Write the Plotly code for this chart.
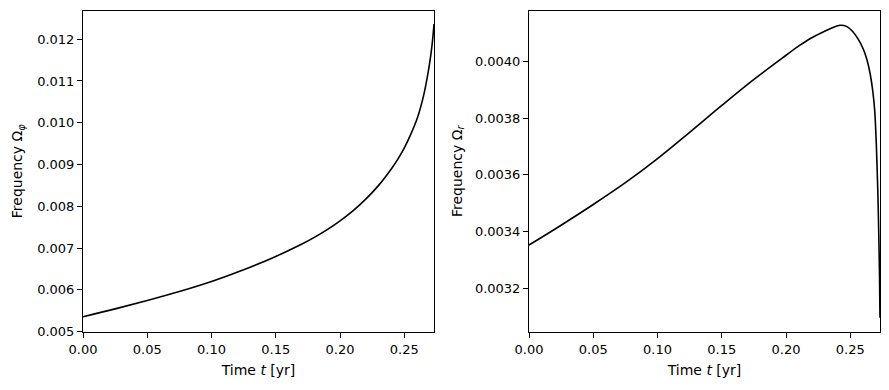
import plotly.graph_objects as go

# Left panel: azimuthal frequency
t_phi = [0.0, 0.025, 0.05, 0.075, 0.10, 0.125, 0.15, 0.17, 0.18, 0.19, 0.20,
         0.21, 0.22, 0.23, 0.24, 0.245, 0.25, 0.255, 0.26, 0.265, 0.2685,
         0.2706, 0.272, 0.2731]
omega_phi = [0.005357, 0.005545, 0.005746, 0.005960, 0.006200, 0.006480,
             0.006800, 0.007090, 0.007255, 0.007440, 0.007650, 0.007890,
             0.008170, 0.008500, 0.008900, 0.009130, 0.009400, 0.009720,
             0.010100, 0.010650, 0.011200, 0.011620, 0.011980, 0.012360]

# Right panel: radial frequency
t_r = [0.0, 0.025, 0.05, 0.075, 0.10, 0.125, 0.15, 0.175, 0.20, 0.21, 0.22,
       0.23, 0.236, 0.242, 0.247, 0.252, 0.256, 0.26, 0.263, 0.2655, 0.2675,
       0.269, 0.2703, 0.2713, 0.2721, 0.2727, 0.2731]
omega_r = [0.003352, 0.003422, 0.003495, 0.003572, 0.003657, 0.003750,
           0.003845, 0.003937, 0.004022, 0.004055, 0.004084, 0.004107,
           0.004119, 0.004128, 0.004124, 0.004105, 0.004080, 0.004045,
           0.004005, 0.003955, 0.003895, 0.003825, 0.003700, 0.003560,
           0.003400, 0.003250, 0.003095]

x_ticks = [0.0, 0.05, 0.10, 0.15, 0.20, 0.25]
x_range = [0.0, 0.2731]
yphi_range = [0.004991, 0.012686]
yr_range = [0.003045, 0.004180]

FONT = "DejaVu Sans"
FS = 14

fig = go.Figure()
fig.add_trace(go.Scatter(x=t_phi, y=omega_phi, mode="lines",
                         line=dict(color="black", width=1.6, shape="spline", smoothing=1.0),
                         xaxis="x", yaxis="y", showlegend=False))
fig.add_trace(go.Scatter(x=t_r, y=omega_r, mode="lines",
                         line=dict(color="black", width=1.6, shape="spline", smoothing=1.0),
                         xaxis="x2", yaxis="y2", showlegend=False))

W, H = 889, 390
ydom = [(H - 332) / H, (H - 10.5) / H]

common_axis = dict(showline=True, linecolor="black", linewidth=1, mirror=True,
                   ticks="outside", ticklen=5, tickwidth=1, tickcolor="black",
                   showgrid=False, zeroline=False, automargin=False,
                   tickfont=dict(family=FONT, size=FS - 1, color="black"))

fig.update_layout(
    width=W, height=H,
    template="none",
    margin=dict(l=0, r=0, t=0, b=0, pad=0),
    paper_bgcolor="white", plot_bgcolor="white",
    font=dict(family=FONT, size=FS, color="black"),
    xaxis=dict(domain=[83 / W, 434 / W], range=x_range, tickvals=x_ticks,
               tickformat=".2f",
               title=dict(text="Time <i>t</i> [yr]", standoff=9,
                          font=dict(family=FONT, size=FS)),
               anchor="y", **common_axis),
    yaxis=dict(domain=ydom, range=yphi_range, dtick=0.001, tick0=0.005,
               tickformat=".3f",
               title=dict(text="Frequency Ω<sub><i>φ</i></sub>", standoff=11,
                          font=dict(family=FONT, size=FS)),
               anchor="x", **common_axis),
    xaxis2=dict(domain=[529 / W, 880 / W], range=x_range, tickvals=x_ticks,
                tickformat=".2f",
                title=dict(text="Time <i>t</i> [yr]", standoff=9,
                           font=dict(family=FONT, size=FS)),
                anchor="y2", **common_axis),
    yaxis2=dict(domain=ydom, range=yr_range, dtick=0.0002, tick0=0.0030,
                tickformat=".4f",
                title=dict(text="Frequency Ω<sub><i>r</i></sub>", standoff=9,
                           font=dict(family=FONT, size=FS)),
                anchor="x2", **common_axis),
)

fig.write_html("out.html", config={"displayModeBar": False},
               post_script="document.body.style.margin='0';document.body.style.overflow='hidden';")
